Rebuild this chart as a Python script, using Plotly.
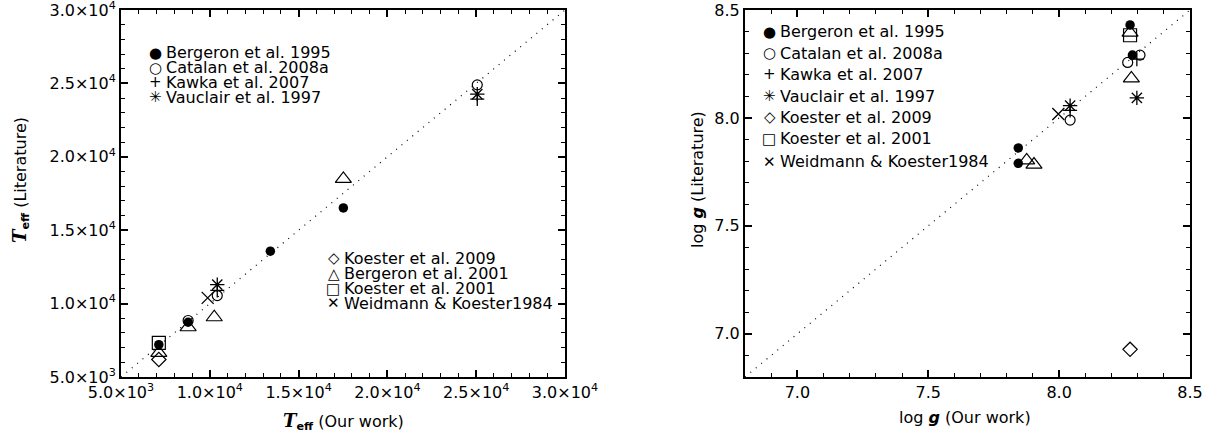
import plotly.graph_objects as go

# ---------------- data: Teff (left panel) ----------------
teff_diag = [5000, 30000]
b95_teff_x = [7130, 8780, 13410, 17520]
b95_teff_y = [7200, 8730, 13570, 16520]
cat_teff_x = [8780, 10420, 25060]
cat_teff_y = [8850, 10550, 24900]
kaw_teff_x = [10420, 25060]
kaw_teff_y = [10900, 23930]
vau_teff_x = [10420, 25060]
vau_teff_y = [11290, 24270]
k09_teff_x = [7130]
k09_teff_y = [6190]
b01_teff_x = [7130, 8780, 10250, 17520]
b01_teff_y = [6650, 8390, 9070, 18490]
k01_teff_x = [7130]
k01_teff_y = [7330]
wei_teff_x = [9880]
wei_teff_y = [10390]

teff_tickvals = [5000, 10000, 15000, 20000, 25000, 30000]
teff_ticktext = ["5.0×10<sup>3</sup>", "1.0×10<sup>4</sup>", "1.5×10<sup>4</sup>",
                 "2.0×10<sup>4</sup>", "2.5×10<sup>4</sup>", "3.0×10<sup>4</sup>"]

# ---------------- data: log g (right panel) ----------------
logg_diag = [6.8, 8.5]
b95_logg_x = [8.271, 8.280, 7.844, 7.844]
b95_logg_y = [8.431, 8.291, 7.861, 7.790]
cat_logg_x = [8.309, 8.262, 8.042]
cat_logg_y = [8.291, 8.257, 7.990]
kaw_logg_x = [8.297, 8.042]
kaw_logg_y = [8.272, 8.035]
vau_logg_x = [8.297, 8.042]
vau_logg_y = [8.093, 8.057]
k09_logg_x = [8.271]
k09_logg_y = [6.928]
b01_logg_x = [8.271, 8.276, 7.876, 7.904]
b01_logg_y = [8.395, 8.183, 7.803, 7.784]
k01_logg_x = [8.271]
k01_logg_y = [8.383]
wei_logg_x = [7.997]
wei_logg_y = [8.018]

logg_tickvals = [7.0, 7.5, 8.0, 8.5]
logg_ticktext = ["7.0", "7.5", "8.0", "8.5"]

legend_left_top = ["Bergeron et al. 1995", "Catalan et al. 2008a", "Kawka et al. 2007", "Vauclair et al. 1997"]
legend_left_bottom = ["Koester et al. 2009", "Bergeron et al. 2001", "Koester et al. 2001", "Weidmann & Koester1984"]
legend_right = ["Bergeron et al. 1995", "Catalan et al. 2008a", "Kawka et al. 2007", "Vauclair et al. 1997",
                "Koester et al. 2009", "Koester et al. 2001", "Weidmann & Koester1984"]

# ---------------- styling ----------------
FONT = "DejaVu Sans"
styles = {
    "b95": dict(symbol="circle", size=9.5, color="black", line=dict(width=0)),
    "cat": dict(symbol="circle-open", size=10, color="black", line=dict(width=1.2, color="black")),
    "kaw": dict(symbol="cross-thin-open", size=10, color="black", line=dict(width=1.3, color="black")),
    "vau": dict(symbol="asterisk-open", size=12, color="black", line=dict(width=1.3, color="black")),
    "k09": dict(symbol="diamond-open", size=11, color="black", line=dict(width=1.2, color="black")),
    "b01": dict(symbol="triangle-up-open", size=14, color="black", line=dict(width=1.2, color="black")),
    "k01": dict(symbol="square-open", size=13, color="black", line=dict(width=1.2, color="black")),
    "wei": dict(symbol="x-thin-open", size=12, color="black", line=dict(width=1.3, color="black")),
}
glyph = {"b95": "●", "cat": "○", "kaw": "+", "vau": "✳", "k09": "◇", "b01": "△", "k01": "□", "wei": "✕"}

fig = go.Figure()

# diagonal reference lines
fig.add_trace(go.Scatter(x=teff_diag, y=teff_diag, mode="lines", xaxis="x", yaxis="y",
                         line=dict(color="black", width=1.2, dash="1px,6px"), showlegend=False, hoverinfo="skip"))
fig.add_trace(go.Scatter(x=logg_diag, y=logg_diag, mode="lines", xaxis="x2", yaxis="y2",
                         line=dict(color="black", width=1.2, dash="1px,6px"), showlegend=False, hoverinfo="skip"))

left_sets = [("b01", b01_teff_x, b01_teff_y), ("k01", k01_teff_x, k01_teff_y), ("k09", k09_teff_x, k09_teff_y),
             ("wei", wei_teff_x, wei_teff_y), ("cat", cat_teff_x, cat_teff_y), ("b95", b95_teff_x, b95_teff_y),
             ("kaw", kaw_teff_x, kaw_teff_y), ("vau", vau_teff_x, vau_teff_y)]
right_sets = [("b01", b01_logg_x, b01_logg_y), ("k01", k01_logg_x, k01_logg_y), ("k09", k09_logg_x, k09_logg_y),
              ("wei", wei_logg_x, wei_logg_y), ("cat", cat_logg_x, cat_logg_y), ("b95", b95_logg_x, b95_logg_y),
              ("kaw", kaw_logg_x, kaw_logg_y), ("vau", vau_logg_x, vau_logg_y)]

for key, xs, ys in left_sets:
    fig.add_trace(go.Scatter(x=xs, y=ys, mode="markers", xaxis="x", yaxis="y",
                             marker=styles[key], showlegend=False))
for key, xs, ys in right_sets:
    fig.add_trace(go.Scatter(x=xs, y=ys, mode="markers", xaxis="x2", yaxis="y2",
                             marker=styles[key], showlegend=False))

axis_common = dict(showline=True, linewidth=2, linecolor="black", mirror="ticks",
                   ticks="inside", ticklen=7, tickwidth=1.5, tickcolor="black", automargin=False,
                   ticklabeloverflow="allow",
                   showgrid=False, zeroline=False, tickfont=dict(family=FONT, size=16, color="black"))

fig.update_layout(
    width=1219, height=439,
    margin=dict(l=0, r=0, t=0, b=0, pad=0, autoexpand=False),
    paper_bgcolor="white", plot_bgcolor="white",
    showlegend=False,
    xaxis=dict(domain=[121/1219, 565/1219], range=[5000, 30000], anchor="y",
               tickvals=teff_tickvals, ticktext=teff_ticktext,
               minor=dict(dtick=1000, ticks="inside", ticklen=4, tickwidth=1.2, tickcolor="black"),
               **axis_common),
    yaxis=dict(domain=[1 - 377/439, 1 - 10/439], range=[5000, 30000], anchor="x",
               tickvals=teff_tickvals, ticktext=teff_ticktext,
               minor=dict(dtick=1000, ticks="inside", ticklen=4, tickwidth=1.2, tickcolor="black"),
               **axis_common),
    xaxis2=dict(domain=[745/1219, 1190/1219], range=[6.8, 8.5], anchor="y2",
                tickvals=logg_tickvals, ticktext=logg_ticktext,
                minor=dict(dtick=0.1, ticks="inside", ticklen=4, tickwidth=1.2, tickcolor="black"),
                **axis_common),
    yaxis2=dict(domain=[1 - 377/439, 1 - 10/439], range=[6.8, 8.5], anchor="x2",
                tickvals=logg_tickvals, ticktext=logg_ticktext,
                minor=dict(dtick=0.1, ticks="inside", ticklen=4, tickwidth=1.2, tickcolor="black"),
                **axis_common),
)

ann = []
TXT = dict(family=FONT, size=16, color="black")
SYM = dict(family=FONT, size=15, color="black")
legend_keys_lt = ["b95", "cat", "kaw", "vau"]
legend_keys_lb = ["k09", "b01", "k01", "wei"]
legend_keys_r = ["b95", "cat", "kaw", "vau", "k09", "k01", "wei"]

def add_legend(keys, names, xr, yr, xt, ys):
    for k, n, yy in zip(keys, names, ys):
        ann.append(dict(xref=xr, yref=yr, x=xt, y=yy, text=glyph[k], showarrow=False,
                        xanchor="right", yanchor="middle", font=SYM, borderpad=0, xshift=-1))
        ann.append(dict(xref=xr, yref=yr, x=xt, y=yy, text=n, showarrow=False,
                        xanchor="left", yanchor="middle", font=TXT, borderpad=0, xshift=1))

add_legend(legend_keys_lt, legend_left_top, "x domain", "y domain", 0.097,
           [0.8837, 0.8428, 0.8029, 0.7621])
add_legend(legend_keys_lb, legend_left_bottom, "x domain", "y domain", 0.497,
           [0.3234, 0.2807, 0.2406, 0.2008])
add_legend(legend_keys_r, legend_right, "x2 domain", "y2 domain", 0.074,
           [0.9410, 0.8823, 0.8253, 0.7644, 0.7073, 0.6486, 0.5870])

TEFF = '<span style="font-family:DejaVu Serif;font-size:18px"><b><i>T</i></b></span><sub><b>eff</b></sub>'
LOGG = 'log <b><i>g</i></b>'
ann.append(dict(xref="paper", yref="paper", x=343/1219, y=1 - 421/439, text=TEFF + " (Our work)",
                showarrow=False, xanchor="center", yanchor="middle", font=TXT))
ann.append(dict(xref="paper", yref="paper", x=20/1219, y=1 - 180/439, text=TEFF + " (Literature)",
                showarrow=False, xanchor="center", yanchor="middle", textangle=-90, font=TXT))
ann.append(dict(xref="paper", yref="paper", x=965/1219, y=1 - 417/439, text=LOGG + " (Our work)",
                showarrow=False, xanchor="center", yanchor="middle", font=TXT))
ann.append(dict(xref="paper", yref="paper", x=697/1219, y=1 - 180/439, text=LOGG + " (Literature)",
                showarrow=False, xanchor="center", yanchor="middle", textangle=-90, font=TXT))

fig.update_layout(annotations=ann)
fig.write_html("out.html", config={"displayModeBar": False},
               post_script="document.body.style.margin='0px';")
